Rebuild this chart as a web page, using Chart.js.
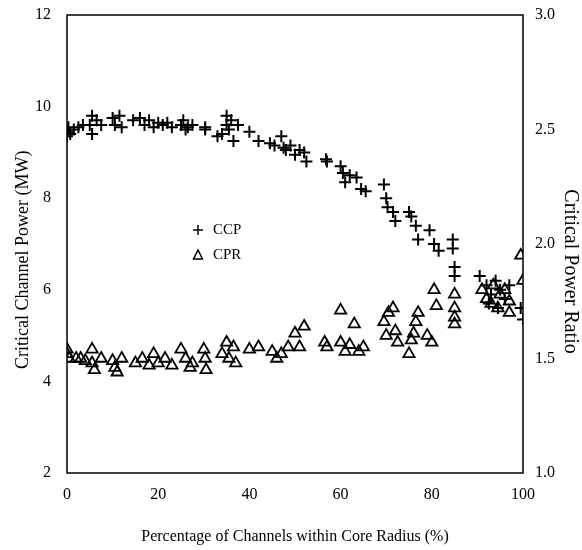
<!DOCTYPE html>
<html>
<head>
<meta charset="utf-8">
<script src="https://cdn.jsdelivr.net/npm/chart.js@4/dist/chart.umd.min.js"></script>
<style>
  body { margin: 0; background: #fff; }
  canvas { display: block; }
</style>
</head>
<body>
<canvas id="chart" width="582" height="550"></canvas>
<script>
// Critical Channel Power (left axis, MW)
const ccpX = [0, 0, 0.3, 0.7, 1.5, 2.5, 3.5, 5, 5.5, 5.5, 6.5, 7.5,
  10, 10.5, 11.5, 12, 14.5, 16, 17, 18, 19, 20, 21, 22, 23,
  25, 25.5, 26, 26.5, 27.5, 30.3, 30.3, 33, 34, 35, 35, 35.5, 36, 36.5, 37.5,
  40, 42, 44.5, 45.5, 47, 47.5, 48, 49, 50, 51, 52, 52.5, 56.8, 57,
  60, 60.5, 61, 62, 63.5, 64.5, 65.5, 69.5, 70, 70.3, 71.5, 72,
  75, 75.5, 76.5, 77, 79.5, 80.5, 81.5, 84.6, 84.6, 85, 85,
  90.5, 92, 93, 94, 95, 96, 97, 92.5, 94.5, 99.5, 100];
const ccpY = [9.35, 9.45, 9.55, 9.4, 9.5, 9.55, 9.6, 9.6, 9.8, 9.4, 9.7, 9.6,
  9.75, 9.6, 9.8, 9.55, 9.7, 9.75, 9.6, 9.7, 9.55, 9.65, 9.6, 9.65, 9.55,
  9.6, 9.7, 9.5, 9.55, 9.6, 9.5, 9.55, 9.35, 9.4, 9.8, 9.6, 9.5, 9.7, 9.25, 9.6,
  9.45, 9.25, 9.2, 9.15, 9.35, 9.1, 9.05, 9.15, 8.95, 9.05, 9.0, 8.8, 8.85, 8.8,
  8.7, 8.55, 8.35, 8.5, 8.45, 8.2, 8.15, 8.3, 8.0, 7.8, 7.7, 7.5,
  7.7, 7.6, 7.4, 7.1, 7.3, 7.0, 6.85, 7.1, 6.9, 6.5, 6.3,
  6.3, 6.1, 5.9, 6.2, 6.0, 5.8, 6.1, 5.7, 5.6, 5.6, 5.35];

// Critical Power Ratio (right axis)
const cprX = [0, 0, 0.5, 2, 3, 4, 5.5, 5.5, 6, 7.5, 10, 10.5, 11, 12,
  15, 16.5, 18, 19, 20, 21.5, 23, 25, 26, 27, 27.5, 30, 30.3, 30.5,
  34, 35, 35.5, 36.5, 37, 40, 42, 45, 46, 47, 48.5, 50, 51, 52, 56.5, 57,
  60, 60, 61, 62, 63, 64, 65, 69.5, 70, 70.5, 71.5, 72, 72.5,
  75, 75.5, 76, 76.5, 77, 79, 80, 80.5, 81, 85, 85, 85, 85,
  91, 92, 93, 93.5, 94.5, 95, 96, 97, 97, 99.5, 100];
const cprY = [1.54, 1.52, 1.5, 1.5, 1.5, 1.49, 1.54, 1.48, 1.45, 1.5, 1.49, 1.46, 1.44, 1.5,
  1.48, 1.5, 1.47, 1.52, 1.48, 1.5, 1.47, 1.54, 1.5, 1.46, 1.48, 1.54, 1.5, 1.45,
  1.52, 1.57, 1.5, 1.55, 1.48, 1.54, 1.55, 1.53, 1.5, 1.52, 1.55, 1.61, 1.55, 1.64, 1.57, 1.55,
  1.71, 1.57, 1.53, 1.56, 1.65, 1.53, 1.55, 1.66, 1.6, 1.7, 1.72, 1.62, 1.57,
  1.52, 1.58, 1.61, 1.66, 1.7, 1.6, 1.57, 1.8, 1.73, 1.78, 1.72, 1.68, 1.65,
  1.8, 1.76, 1.74, 1.82, 1.72, 1.78, 1.8, 1.75, 1.7, 1.95, 1.84];

const xTicks = [0, 20, 40, 60, 80, 100];

const serif = "'Liberation Serif', 'DejaVu Serif', serif";

function pts(xs, ys) {
  return xs.map((x, i) => ({ x: x, y: ys[i] }));
}

// frame round the plot area and the legend inside it
const framePlugin = {
  id: 'frame',
  afterDraw(c) {
    const ctx = c.ctx;
    const a = c.chartArea;
    ctx.save();
    ctx.strokeStyle = '#000';
    ctx.lineWidth = 1.5;
    ctx.strokeRect(a.left, a.top, a.right - a.left, a.bottom - a.top);

    // legend
    ctx.font = '15px ' + serif;
    ctx.fillStyle = '#000';
    ctx.textBaseline = 'middle';
    const lx = 198, ly1 = 230, ly2 = 255;
    ctx.beginPath();
    ctx.moveTo(lx - 5, ly1); ctx.lineTo(lx + 5, ly1);
    ctx.moveTo(lx, ly1 - 5); ctx.lineTo(lx, ly1 + 5);
    ctx.stroke();
    ctx.beginPath();
    ctx.moveTo(lx, ly2 - 5); ctx.lineTo(lx + 4.5, ly2 + 4); ctx.lineTo(lx - 4.5, ly2 + 4);
    ctx.closePath();
    ctx.stroke();
    ctx.fillText('CCP', lx + 15, ly1);
    ctx.fillText('CPR', lx + 15, ly2);
    ctx.restore();
  }
};

// fixed widths for the y axes, without extra top/bottom padding
function fitY(width) {
  return ax => {
    ax.width = width;
    ax.paddingTop = 0;
    ax.paddingBottom = 0;
  };
}

// trailing spaces push the rotated titles a bit lower, as in the original
const pad = n => '\u00a0'.repeat(n);

new Chart(document.getElementById('chart'), {
  type: 'scatter',
  data: {
    datasets: [
      {
        label: 'CCP',
        data: pts(ccpX, ccpY),
        yAxisID: 'y',
        pointStyle: 'cross',
        pointRadius: 6,
        borderColor: '#000',
        backgroundColor: '#000',
        borderWidth: 2
      },
      {
        label: 'CPR',
        data: pts(cprX, cprY),
        yAxisID: 'y2',
        pointStyle: 'triangle',
        pointRadius: 6.5,
        borderColor: '#000',
        backgroundColor: 'rgba(255,255,255,0)',
        borderWidth: 1.8
      }
    ]
  },
  options: {
    responsive: false,
    animation: false,
    layout: { padding: { top: 15 } },
    plugins: {
      legend: { display: false },
      tooltip: { enabled: false }
    },
    scales: {
      x: {
        type: 'linear',
        min: 0, max: 100,
        afterBuildTicks: ax => { ax.ticks = xTicks.map(v => ({ value: v })); },
        afterFit: ax => { ax.height = 77; ax.paddingLeft = 0; ax.paddingRight = 0; },
        grid: { display: false, drawTicks: false },
        border: { display: false },
        ticks: { color: '#000', padding: 12, font: { family: serif, size: 16 } },
        title: {
          display: true,
          text: 'Percentage of Channels within Core Radius (%)',
          color: '#000',
          font: { family: serif, size: 16 },
          padding: { top: 22 }
        }
      },
      y: {
        position: 'left',
        min: 2, max: 12,
        ticks: { stepSize: 2, color: '#000', padding: 16, font: { family: serif, size: 16 } },
        afterFit: fitY(67),
        grid: { display: false, drawTicks: false },
        border: { display: false },
        title: {
          display: true,
          text: 'Critical Channel Power (MW)' + pad(7),
          color: '#000',
          font: { family: serif, size: 18 },
          padding: { top: 12, bottom: 0 }
        }
      },
      y2: {
        position: 'right',
        min: 1, max: 3,
        ticks: {
          stepSize: 0.5, color: '#000', padding: 12,
          font: { family: serif, size: 16 },
          callback: v => v.toFixed(1)
        },
        afterFit: fitY(59),
        grid: { display: false, drawTicks: false },
        border: { display: false },
        title: {
          display: true,
          text: pad(11) + 'Critical Power Ratio',
          color: '#000',
          font: { family: serif, size: 20 },
          padding: { top: 0, bottom: 0 }
        }
      }
    }
  },
  plugins: [framePlugin]
});
</script>
</body>
</html>
